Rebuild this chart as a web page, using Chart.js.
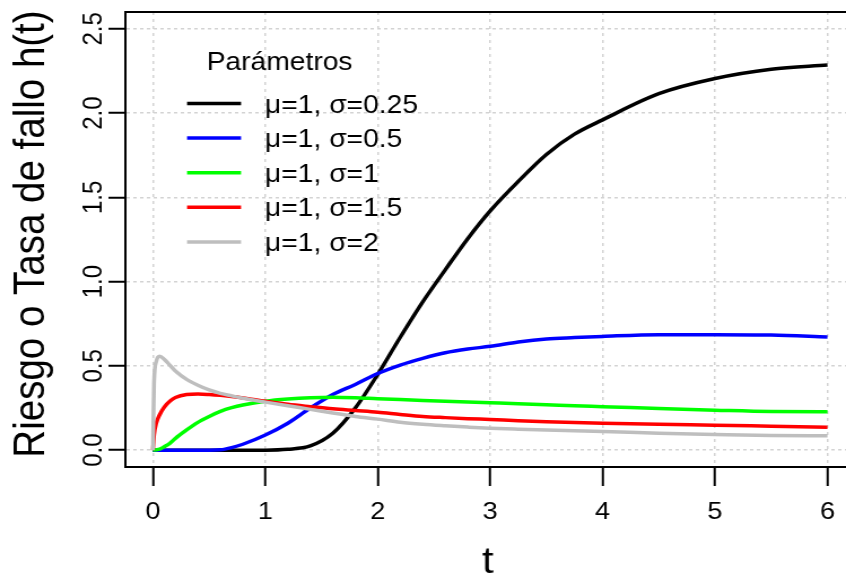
<!DOCTYPE html>
<html>
<head>
<meta charset="utf-8">
<script src="https://cdn.jsdelivr.net/npm/chart.js@4.4.1/dist/chart.umd.min.js"></script>
<style>
    html, body { margin: 0; padding: 0; background: #fff; overflow: hidden; }
</style>
</head>
<body>
<!-- drawn at 749px wide and stretched to 846px, like the reference image -->
<canvas id="hazardChart" width="749" height="573" style="width:846px;height:573px;display:block"></canvas>
<script>
const tValues = [0, 0.01, 0.03, 0.06, 0.1, 0.15, 0.2, 0.3, 0.4, 0.5, 0.6, 0.7, 0.8, 1.0, 1.2, 1.4,
    1.6, 1.8, 2.0, 2.2, 2.4, 2.6, 2.8, 3.0, 3.25, 3.5, 3.75, 4.0, 4.5, 5.0, 5.5, 6.0];

const hSigma025 = [0, 0, 0, 0, 0, 0, 0, 0, 0, 0, 0, 0, 0, 0, 0.005, 0.025,
    0.10, 0.25, 0.45, 0.67, 0.88, 1.07, 1.255, 1.42, 1.595, 1.755, 1.875, 1.96, 2.115, 2.205, 2.26, 2.285];
const hSigma05 = [0, 0, 0, 0, 0, 0, 0, 0, 0, 0, 0.002, 0.015, 0.035, 0.09, 0.16, 0.25,
    0.33, 0.39, 0.455, 0.505, 0.545, 0.578, 0.60, 0.616, 0.642, 0.66, 0.668, 0.675, 0.685, 0.685, 0.683, 0.672];
const hSigma1 = [0, 0.0005, 0.002, 0.006, 0.02, 0.04, 0.07, 0.12, 0.165, 0.20, 0.23, 0.252, 0.268, 0.29, 0.303, 0.311,
    0.314, 0.311, 0.305, 0.30, 0.295, 0.29, 0.285, 0.281, 0.276, 0.27, 0.263, 0.258, 0.247, 0.237, 0.229, 0.228];
const hSigma15 = [0, 0.09, 0.16, 0.21, 0.255, 0.29, 0.312, 0.33, 0.333, 0.33, 0.325, 0.318, 0.31, 0.29, 0.272, 0.258,
    0.245, 0.235, 0.225, 0.212, 0.20, 0.193, 0.187, 0.182, 0.175, 0.169, 0.164, 0.16, 0.153, 0.148, 0.142, 0.136];
const hSigma2 = [0, 0.40, 0.527, 0.557, 0.54, 0.505, 0.47, 0.42, 0.385, 0.357, 0.337, 0.322, 0.308, 0.285, 0.263, 0.242,
    0.22, 0.20, 0.184, 0.166, 0.154, 0.145, 0.137, 0.13, 0.124, 0.119, 0.115, 0.111, 0.10, 0.093, 0.087, 0.085];

const seriesValues = [hSigma025, hSigma05, hSigma1, hSigma15, hSigma2];
const seriesLabels = ['μ=1, σ=0.25', 'μ=1, σ=0.5', 'μ=1, σ=1', 'μ=1, σ=1.5', 'μ=1, σ=2'];
const seriesColors = ['#000000', '#0000ff', '#00ff00', '#ff0000', '#bebebe'];

const xTickValues = [0, 1, 2, 3, 4, 5, 6];
const yTickValues = [0, 0.5, 1, 1.5, 2, 2.5];
const yTickLabels = ['0.0', '0.5', '1.0', '1.5', '2.0', '2.5'];

const legendTitle = 'Parámetros';
const xTitle = 't';
const yTitle = 'Riesgo o Tasa de fallo h(t)';

const FONT = '"Liberation Sans", Arial, sans-serif';

// box top, tick labels, axis titles and the legend, R style
const rDecor = {
    id: 'rDecor',
    afterDraw(chart) {
        const { ctx, chartArea, scales } = chart;
        ctx.save();

        ctx.strokeStyle = '#000';
        ctx.lineWidth = 2;
        ctx.beginPath();
        ctx.moveTo(chartArea.left - 1, chartArea.top);
        ctx.lineTo(chartArea.right + 2, chartArea.top);
        ctx.stroke();

        ctx.fillStyle = '#000';
        ctx.font = '24px ' + FONT;
        ctx.textAlign = 'center';
        ctx.textBaseline = 'alphabetic';
        xTickValues.forEach(v => {
            ctx.fillText(String(v), scales.x.getPixelForValue(v), 519);
        });
        yTickValues.forEach((v, i) => {
            ctx.save();
            ctx.translate(90, scales.y.getPixelForValue(v));
            ctx.rotate(-Math.PI / 2);
            ctx.fillText(yTickLabels[i], 0, 0);
            ctx.restore();
        });

        ctx.font = '37px ' + FONT;
        ctx.fillText(xTitle, scales.x.getPixelForValue(2.98), 573);
        ctx.font = '38.5px ' + FONT;
        ctx.save();
        ctx.translate(39, 234);
        ctx.rotate(-Math.PI / 2);
        ctx.fillText(yTitle, 0, 0);
        ctx.restore();

        ctx.font = '25px ' + FONT;
        ctx.fillText(legendTitle, 247.5, 70);
        ctx.textAlign = 'left';
        seriesLabels.forEach((label, i) => {
            const y = 103.5 + i * 34.6;
            ctx.strokeStyle = seriesColors[i];
            ctx.lineWidth = 3.5;
            ctx.beginPath();
            ctx.moveTo(165.6, y);
            ctx.lineTo(213.4, y);
            ctx.stroke();
            ctx.fillText(label, 234.6, y + 9);
        });

        ctx.restore();
    }
};

const gridOpts = {
    color: '#d3d3d3',
    lineWidth: 1.5,
    drawTicks: true,
    tickColor: '#000',
    tickWidth: 2,
    tickBorderDash: []
};

const datasets = seriesValues.map((vals, i) => ({
    label: seriesLabels[i],
    data: tValues.map((t, j) => ({ x: t, y: vals[j] })),
    borderColor: seriesColors[i],
    backgroundColor: seriesColors[i],
    borderWidth: 3.5,
    pointRadius: 0,
    cubicInterpolationMode: 'monotone',
    fill: false,
    order: seriesValues.length - i
}));

new Chart(document.getElementById('hazardChart').getContext('2d'), {
    type: 'line',
    data: { datasets },
    options: {
        responsive: false,
        devicePixelRatio: 1,
        animation: false,
        layout: { padding: { top: 12, left: 0, right: 0, bottom: 0 } },
        plugins: {
            legend: { display: false },
            tooltip: { enabled: false }
        },
        scales: {
            x: {
                type: 'linear',
                min: -0.245,
                max: 6.165,
                afterBuildTicks: s => { s.ticks = xTickValues.map(v => ({ value: v })); },
                afterFit: s => { s.height = 106; },
                ticks: { display: false },
                grid: { ...gridOpts, tickLength: 19 },
                border: { display: true, color: '#000', width: 2, dash: [3, 4] }
            },
            y: {
                type: 'linear',
                min: -0.1,
                max: 2.6,
                afterBuildTicks: s => { s.ticks = yTickValues.map(v => ({ value: v })); },
                afterFit: s => { s.width = 111; },
                ticks: { display: false },
                grid: { ...gridOpts, tickLength: 15 },
                border: { display: true, color: '#000', width: 2, dash: [3, 3] }
            }
        }
    },
    plugins: [rDecor]
});
</script>
</body>
</html>
